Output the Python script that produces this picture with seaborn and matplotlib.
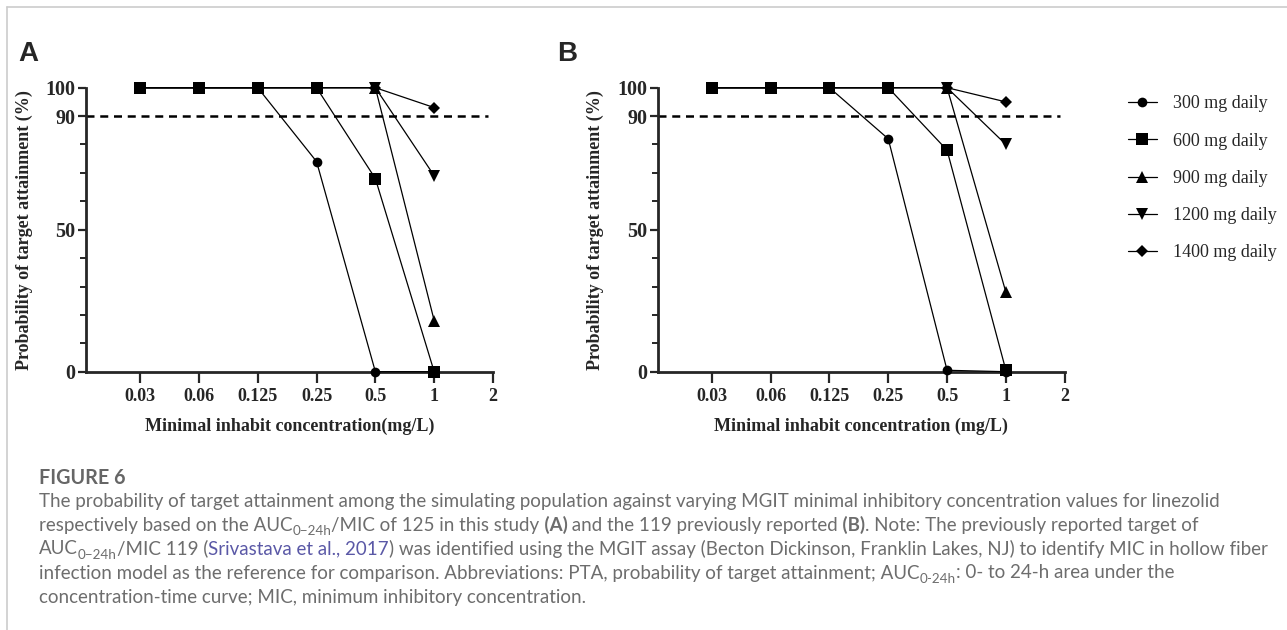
import numpy as np
import pandas as pd
import seaborn as sns
import matplotlib.pyplot as plt
from matplotlib.lines import Line2D
from matplotlib.ticker import MultipleLocator, NullLocator

# =========================== DATA ===========================
mic_values = [0.03125, 0.0625, 0.125, 0.25, 0.5, 1]
tick_values = [0.03125, 0.0625, 0.125, 0.25, 0.5, 1, 2]
tick_labels = ["0.03", "0.06", "0.125", "0.25", "0.5", "1", "2"]
dose_labels = ["300 mg daily", "600 mg daily", "900 mg daily", "1200 mg daily", "1400 mg daily"]
y_ticks = [0, 50, 90, 100]
target_pta = 90

# (A) AUC0-24h/MIC of 125, this study
pta_a_300 = [100, 100, 100, 74, 0, 0]
pta_a_600 = [100, 100, 100, 100, 68, 0]
pta_a_900 = [100, 100, 100, 100, 100, 18]
pta_a_1200 = [100, 100, 100, 100, 100, 69]
pta_a_1400 = [100, 100, 100, 100, 100, 93]

# (B) AUC0-24h/MIC of 119, previously reported
pta_b_300 = [100, 100, 100, 82, 0.5, 0]
pta_b_600 = [100, 100, 100, 100, 78, 0.5]
pta_b_900 = [100, 100, 100, 100, 100, 28]
pta_b_1200 = [100, 100, 100, 100, 100, 80]
pta_b_1400 = [100, 100, 100, 100, 100, 95]


def to_long(series):
    frames = []
    for dose, vals in zip(dose_labels, series):
        frames.append(pd.DataFrame({"mic": mic_values, "pta": vals, "dose": dose}))
    return pd.concat(frames, ignore_index=True)


df_a = to_long([pta_a_300, pta_a_600, pta_a_900, pta_a_1200, pta_a_1400])
df_b = to_long([pta_b_300, pta_b_600, pta_b_900, pta_b_1200, pta_b_1400])

# =========================== STYLE ===========================
sns.set_style("ticks")
plt.rcParams['font.family'] = ['Liberation Serif', 'DejaVu Serif']

markers = ['o', 's', '^', 'v', 'D']
marker_sizes = [7, 8, 8, 8, 6]

W, H = 1287, 630
fig = plt.figure(figsize=(W / 100, H / 100), dpi=100)
ax_a = fig.add_axes([86 / W, 1 - 371.7 / H, 407 / W, 284 / H])
ax_b = fig.add_axes([657.7 / W, 1 - 371.7 / H, 407 / W, 284 / H])


def draw_panel(ax, df, xlabel):
    for dose, m, ms in zip(dose_labels, markers, marker_sizes):
        sns.lineplot(data=df[df["dose"] == dose], x="mic", y="pta", ax=ax,
                     color='k', linewidth=0.9, marker=m, markersize=ms,
                     markeredgewidth=0, clip_on=False, legend=False, zorder=3)
    ax.set_xscale('log', base=2)
    ax.set_xlim(2 ** -5.92, 2)
    ax.set_ylim(0, 100)
    ax.set_xticks(tick_values, tick_labels, fontweight='bold')
    ax.xaxis.set_minor_locator(NullLocator())
    ax.set_yticks(y_ticks, [str(v) for v in y_ticks], fontweight='bold')
    ax.yaxis.set_minor_locator(MultipleLocator(10))
    ax.axhline(target_pta, xmax=0.988, color='k', lw=1.8, ls=(0, (3.2, 2.3)), zorder=1)

    sns.despine(ax=ax)
    for s in ['left', 'bottom']:
        ax.spines[s].set_linewidth(2)
    ax.tick_params(axis='x', which='major', length=8, width=1.6, pad=3.5, labelsize=13)
    ax.tick_params(axis='y', which='major', length=5.5, width=1.6, pad=2, labelsize=14.5)
    ax.tick_params(axis='y', which='minor', length=4.5, width=1.4)

    ax.set_xlabel(xlabel, fontsize=13, fontweight='bold')
    ax.set_ylabel("Probability of target attainment (%)", fontsize=13, fontweight='bold')
    ax.xaxis.set_label_coords(0.5, -0.194)
    ax.xaxis.label.set_va('center')
    ax.yaxis.set_label_coords(-0.152, 0.5)
    ax.yaxis.label.set_va('center')


draw_panel(ax_a, df_a, "Minimal inhabit concentration(mg/L)")
draw_panel(ax_b, df_b, "Minimal inhabit concentration (mg/L)")

fig.legend(handles=ax_b.lines[:5], labels=dose_labels, loc='upper left',
           bbox_to_anchor=(1128 / W, 1 - 95.5 / H), frameon=False,
           borderpad=0, borderaxespad=0, handlelength=1.6, handletextpad=0.9,
           labelspacing=1.12, fontsize=13)

# panel letters
fig.text(18 / W, 1 - 61 / H, "A", family='Liberation Sans', fontweight='bold', fontsize=20, va='baseline')
fig.text(557 / W, 1 - 61 / H, "B", family='Liberation Sans', fontweight='bold', fontsize=20, va='baseline')

# page frame
frame_col = '#cccccc'
fig.add_artist(Line2D([7 / W, 7 / W], [0, 1 - 7 / H], color=frame_col, lw=1.2, transform=fig.transFigure))
fig.add_artist(Line2D([7 / W, 1], [1 - 7 / H, 1 - 7 / H], color=frame_col, lw=1.2, transform=fig.transFigure))

# =========================== CAPTION ===========================
cap_font = ['Lato', 'DejaVu Sans']
cap_col = '#6d6d6d'
link_col = '#5a58a6'
renderer = fig.canvas.get_renderer()

caption_lines = [
    [("The probability of target attainment among the simulating population against varying MGIT "
      "minimal inhibitory concentration values for linezolid", 'n')],
    [("respectively based on the AUC", 'n'), ("0\u221224h", 'sub'), ("/MIC of 125 in this study", 'n'),
     (" (A)", 'b'), (" and the 119 previously reported", 'n'), (" (B)", 'b'),
     (". Note: The previously reported target of", 'n')],
    [("AUC", 'n'), ("0\u221224h", 'sub'), ("/MIC 119 (", 'n'), ("Srivastava et al., 2017", 'link'),
     (") was identified using the MGIT assay (Becton Dickinson, Franklin Lakes, NJ) to identify MIC in hollow fiber", 'n')],
    [("infection model as the reference for comparison. Abbreviations: PTA, probability of target attainment; AUC", 'n'),
     ("0-24h", 'sub'), (": 0- to 24-h area under the", 'n')],
    [("concentration-time curve; MIC, minimum inhibitory concentration.", 'n')],
]

probe = fig.text(0, 0, caption_lines[0][0][0], family=cap_font, fontsize=12)
cap_size = 12 * 1177 / probe.get_window_extent(renderer).width
probe.remove()

fig.text(39 / W, 1 - 484 / H, "FIGURE 6", family=cap_font, fontweight='bold',
         fontsize=cap_size * 1.05, color='#666666', va='baseline')

px = cap_size * 100 / 72
for i, runs in enumerate(caption_lines):
    x = 39
    base = 506.5 + i * 24
    for txt, kind in runs:
        kw = dict(family=cap_font, fontsize=cap_size, color=cap_col)
        y = base
        if kind == 'sub':
            kw['fontsize'] = cap_size * 0.72
            y = base + 0.22 * px
        elif kind == 'b':
            kw['fontweight'] = 'bold'
        elif kind == 'link':
            kw['color'] = link_col
        t = fig.text(x / W, 1 - y / H, txt, ha='left', va='baseline', **kw)
        x += t.get_window_extent(renderer).width

fig.savefig("out.png", dpi=100)
